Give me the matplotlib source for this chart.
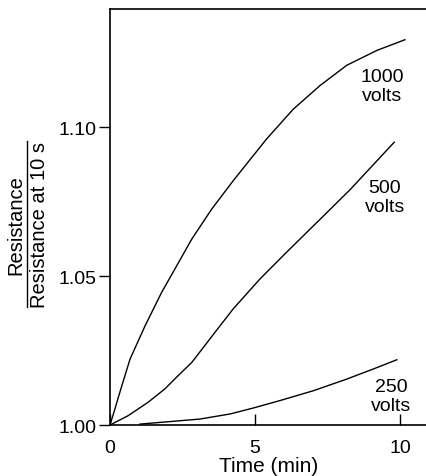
import matplotlib.pyplot as plt
from matplotlib.lines import Line2D

plt.rcParams['font.family'] = ['Liberation Sans', 'DejaVu Sans']

# Time (min) and resistance ratio for each test voltage
t_1000 = [0, 0.17, 0.34, 0.69, 1.21, 1.78, 2.13, 2.82, 3.51, 4.25, 5.4, 6.32, 7.24, 8.16, 9.2, 10.17]
r_1000 = [1.000, 1.0054, 1.011, 1.0221, 1.0333, 1.0445, 1.0505, 1.0624, 1.0725, 1.082,
          1.096, 1.106, 1.1139, 1.1207, 1.1257, 1.1293]

t_500 = [0, 0.62, 1.31, 1.89, 2.29, 2.82, 3.62, 4.25, 5.17, 6.09, 7.24, 8.28, 9.8]
r_500 = [1.000, 1.0031, 1.0076, 1.0121, 1.016, 1.021, 1.0311, 1.039, 1.049, 1.058, 1.069, 1.079, 1.0949]

t_250 = [1.03, 3.1, 4.14, 4.94, 5.86, 7.01, 8.16, 9.08, 9.89]
r_250 = [1.0003, 1.002, 1.0037, 1.0057, 1.0082, 1.0115, 1.0154, 1.0188, 1.0219]

curve_labels = ['1000\nvolts', '500\nvolts', '250\nvolts']
label_pos = [(9.38, 1.1138), (9.48, 1.0765), (9.69, 1.0097)]

x_ticks = [0, 5, 10]
y_ticks = [1.00, 1.05, 1.10]

fig = plt.figure(figsize=(4.27, 4.77), dpi=100)
ax = fig.add_axes([0.2576, 0.1069, 0.7424, 0.8721])

for t, r in [(t_1000, r_1000), (t_500, r_500), (t_250, r_250)]:
    ax.plot(t, r, color='black', lw=1.0)

for txt, (x, y) in zip(curve_labels, label_pos):
    ax.text(x, y, txt, ha='center', va='center', fontsize=14, linespacing=1.15)

ax.set_xlim(0, 10.93)
ax.set_ylim(1.0, 1.1396)
ax.set_xticks(x_ticks)
ax.set_xticklabels([str(v) for v in x_ticks])
ax.set_yticks(y_ticks)
ax.set_yticklabels([f'{v:.2f}' for v in y_ticks])

ax.spines['right'].set_visible(False)
for s in ['left', 'bottom', 'top']:
    ax.spines[s].set_linewidth(1.2)

ax.tick_params(axis='x', direction='in', length=8, width=1, labelsize=14, pad=10)
ax.tick_params(axis='y', direction='out', length=8, width=1, labelsize=14, pad=2)

ax.set_xlabel('Time (min)', fontsize=15, labelpad=0)

# Stacked fraction as the y-axis label
fig.text(16 / 427, 1 - 225 / 477, 'Resistance', rotation=90, ha='center', va='center', fontsize=14.5)
fig.text(40 / 427, 1 - 225 / 477, 'Resistance at 10 s', rotation=90, ha='center', va='center', fontsize=14.5)
fig.add_artist(Line2D([27 / 427, 27 / 427], [1 - 142 / 477, 1 - 308 / 477],
                      transform=fig.transFigure, color='black', lw=1.0))

fig.savefig('out.png', dpi=100)
